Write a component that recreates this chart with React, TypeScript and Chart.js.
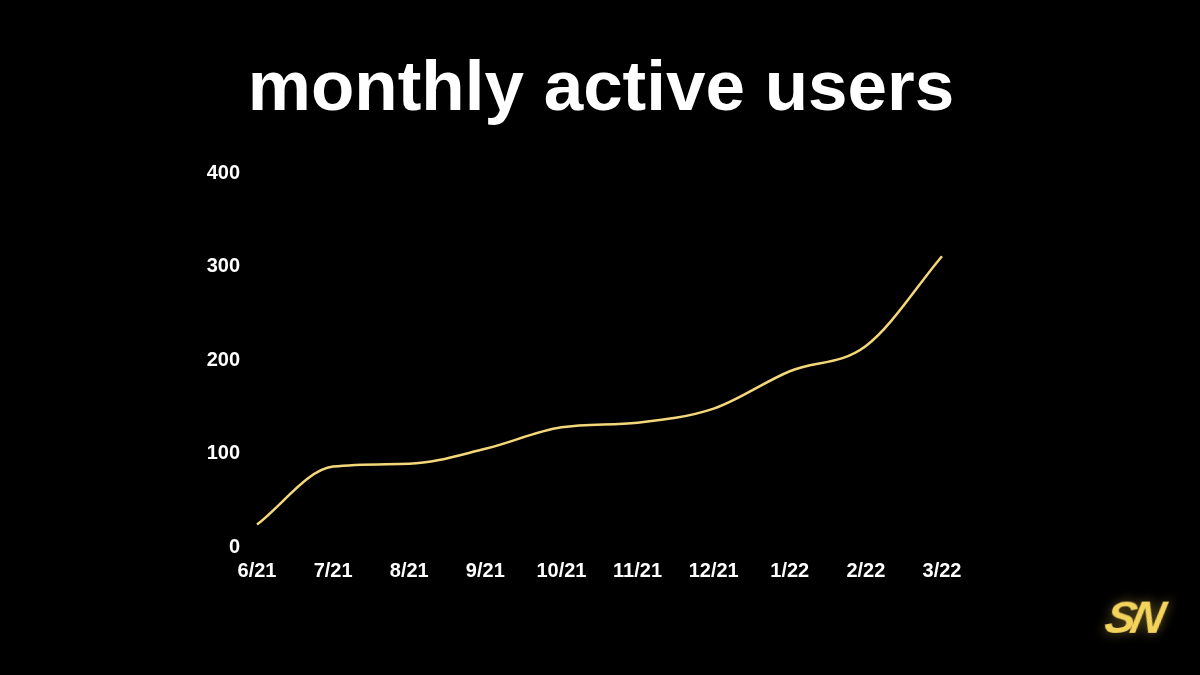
import React, { useEffect, useRef } from "react";
import { Chart, registerables } from "chart.js";

Chart.register(...registerables);

const months = ["6/21", "7/21", "8/21", "9/21", "10/21", "11/21", "12/21", "1/22", "2/22", "3/22"];
const users = [24, 86, 89, 105, 128, 133, 148, 188, 215, 311];
const yTicks = [0, 100, 200, 300, 400];

const TITLE = "monthly active users";
const LINE_COLOR = "#f3d778";
const FONT = "'Liberation Sans', Arial, Helvetica, sans-serif";

export default function App() {
  const ref = useRef<HTMLCanvasElement | null>(null);

  useEffect(() => {
    if (!ref.current) return;
    const chart = new Chart(ref.current, {
      type: "line",
      data: {
        labels: months,
        datasets: [
          {
            label: "MAU",
            data: users,
            borderColor: LINE_COLOR,
            borderWidth: 2.5,
            pointRadius: 0,
            cubicInterpolationMode: "monotone",
            fill: false,
          },
        ],
      },
      options: {
        animation: false,
        responsive: false,
        maintainAspectRatio: false,
        layout: { padding: { left: 190, right: 258, top: 173, bottom: 0 } },
        plugins: {
          legend: { display: false },
          tooltip: { enabled: false },
          title: { display: false },
        },
        scales: {
          x: {
            offset: false,
            grid: { display: false },
            border: { display: false },
            ticks: {
              color: "#ffffff",
              font: { family: FONT, size: 20, weight: "bold" },
              padding: 4,
              maxRotation: 0,
              autoSkip: false,
            },
            afterFit: (s: any) => {
              s.height = 128;
            },
          },
          y: {
            min: 0,
            max: 400,
            grid: { display: false },
            border: { display: false },
            afterBuildTicks: (s: any) => {
              s.ticks = yTicks.map((v) => ({ value: v }));
            },
            ticks: {
              color: "#ffffff",
              font: { family: FONT, size: 20, weight: "bold" },
              padding: 9,
            },
            afterFit: (s: any) => {
              s.width = 67;
            },
          },
        },
      },
    });
    return () => chart.destroy();
  }, []);

  return (
    <div style={{ position: "fixed", left: 0, top: 0, width: 1200, height: 675, background: "#000", overflow: "hidden" }}>
      <canvas ref={ref} width={1200} height={675} style={{ display: "block", width: 1200, height: 675 }} />
      <div
        style={{
          position: "absolute",
          left: 0,
          top: 50,
          width: 1202,
          textAlign: "center",
          fontFamily: FONT,
          fontWeight: "bold",
          fontSize: 71,
          lineHeight: 1,
          color: "#ffffff",
          whiteSpace: "nowrap",
        }}
      >
        {TITLE}
      </div>
      <div
        style={{
          position: "absolute",
          left: 1106,
          top: 594,
          fontFamily: FONT,
          fontWeight: "bold",
          fontStyle: "italic",
          fontSize: 46,
          lineHeight: 1,
          letterSpacing: -5,
          color: "#f3d35c",
          textShadow: "0 0 12px rgba(243,211,92,0.45)",
          transform: "skewX(-12deg)",
        }}
      >
        SN
      </div>
    </div>
  );
}
